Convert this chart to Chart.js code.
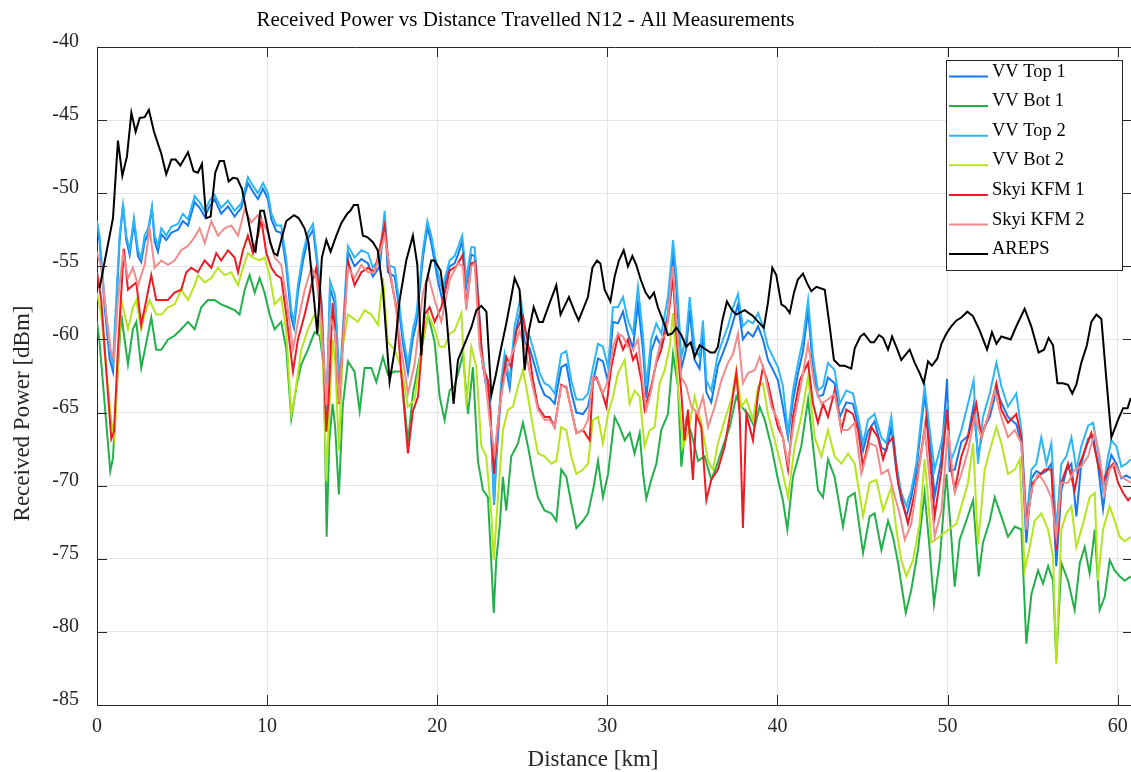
<!DOCTYPE html>
<html><head><meta charset="utf-8">
<script src="https://cdn.jsdelivr.net/npm/chart.js@4.4.1/dist/chart.umd.min.js"></script>
<style>
html,body{margin:0;padding:0;background:#fff;overflow:hidden;}
#c{display:block;}
</style></head><body>
<canvas id="c" width="1145" height="772"></canvas>
<script>
// ---------- data (distance in km, received power in dBm) ----------
const xTickValues = [0, 10, 20, 30, 40, 50, 60];
const yTickValues = [-85, -80, -75, -70, -65, -60, -55, -50, -45, -40];
const seriesNames = ['VV Top 1', 'VV Bot 1', 'VV Top 2', 'VV Bot 2', 'Skyi KFM 1', 'Skyi KFM 2', 'AREPS'];
const titleText = 'Received Power vs Distance Travelled N12 - All Measurements';
const xLabelText = 'Distance [km]';
const yLabelText = 'Received Power [dBm]';

const vvTop1 = [[0,-52.3],[0.15,-53.3],[0.45,-57.8],[0.74,-61.3],[0.94,-62.2],[1.13,-58.0],[1.33,-53.2],[1.53,-50.8],[1.72,-53.2],[1.92,-54.2],[2.17,-52.0],[2.41,-54.3],[2.6,-54.7],[2.8,-53.3],[3.0,-52.8],[3.23,-51.0],[3.39,-53.3],[3.58,-54.0],[3.78,-52.8],[4.07,-53.2],[4.37,-52.7],[4.76,-52.5],[5.05,-51.9],[5.35,-52.2],[5.74,-50.6],[6.03,-51.0],[6.33,-51.6],[6.62,-50.9],[6.91,-50.4],[7.3,-51.4],[7.7,-50.9],[8.09,-51.6],[8.48,-51.0],[8.87,-49.3],[9.17,-49.9],[9.46,-50.4],[9.76,-49.7],[10.05,-50.4],[10.25,-51.8],[10.54,-52.6],[10.83,-52.7],[11.13,-55.1],[11.42,-58.5],[11.58,-59.2],[11.81,-56.8],[12.11,-54.6],[12.4,-53.1],[12.7,-52.5],[12.89,-54.3],[13.19,-57.8],[13.48,-66.0],[13.7,-56.5],[14.0,-57.6],[14.26,-63.8],[14.75,-54.0],[15.14,-55.0],[15.54,-54.5],[15.93,-54.8],[16.22,-55.7],[16.62,-55.0],[16.91,-51.7],[17.1,-55.4],[17.5,-55.7],[17.69,-57.3],[17.99,-60.3],[18.28,-62.3],[18.57,-59.9],[18.77,-58.9],[19.16,-54.4],[19.42,-52.3],[19.65,-53.4],[20.04,-56.0],[20.34,-57.5],
[20.43,-56.3],[20.73,-55.0],[21.02,-54.8],[21.22,-54.2],[21.47,-53.3],[21.71,-56.3],[22.0,-54.2],[22.2,-54.3],[22.39,-57.3],[22.59,-61.0],[22.88,-63.2],[23.08,-63.8],[23.34,-71.3],[23.47,-68.3],[23.77,-63.3],[23.96,-61.5],[24.26,-63.3],[24.55,-59.8],[24.9,-58.0],[25.14,-60.2],[25.43,-60.6],[25.73,-61.8],[26.02,-63.0],[26.31,-63.8],[26.61,-64.0],[26.9,-64.4],[27.29,-61.9],[27.59,-61.7],[27.88,-63.6],[28.18,-65.0],[28.57,-65.1],[28.86,-64.6],[29.16,-62.9],[29.45,-61.3],[29.74,-61.5],[30.04,-62.9],[30.33,-58.8],[30.62,-58.9],[30.92,-58.1],[31.21,-59.6],[31.51,-60.6],[31.8,-57.5],[32.1,-60.8],[32.29,-64.0],[32.58,-60.8],[32.88,-59.8],[33.17,-60.5],[33.56,-58.2],[33.76,-55.5],[33.86,-54.0],[34.05,-56.5],[34.35,-62.0],[34.64,-60.6],[34.84,-58.0],[35.13,-61.4],[35.42,-62.0],[35.62,-59.6],[35.82,-63.6],[36.11,-64.3],[36.5,-61.8],[36.8,-60.9],[37.09,-60.0],[37.39,-58.8],[37.68,-57.6],[37.97,-60.0],[38.27,-59.5],[38.56,-59.8],[38.86,-59.1],[39.15,-60.0],[39.44,-61.4],[39.74,-62.1],[40.03,-62.8],[40.32,-64.6],
[40.62,-66.7],[40.91,-64.2],[41.21,-62.3],[41.5,-60.8],[41.8,-58.0],[42.09,-62.0],[42.38,-63.9],[42.68,-63.8],[42.97,-62.6],[43.36,-63.0],[43.66,-65.3],[44.05,-64.3],[44.44,-64.4],[44.74,-65.8],[45.03,-67.6],[45.32,-66.3],[45.71,-65.6],[46.11,-67.4],[46.4,-67.6],[46.69,-66.0],[46.99,-69.0],[47.28,-71.0],[47.58,-72.1],[47.87,-70.8],[48.16,-69.0],[48.46,-65.8],[48.65,-63.8],[48.95,-66.8],[49.24,-70.7],[49.63,-68.2],[49.97,-62.7],[50.12,-69.0],[50.42,-68.9],[50.81,-67.0],[51.2,-66.6],[51.53,-64.5],[51.79,-68.0],[52.08,-66.2],[52.48,-65.3],[52.87,-63.5],[53.16,-64.3],[53.55,-65.3],[54.04,-65.8],[54.34,-67.1],[54.63,-73.9],[54.93,-69.5],[55.22,-69.0],[55.51,-69.2],[55.81,-69.0],[56.1,-68.5],[56.39,-75.5],[56.69,-70.3],[56.98,-69.0],[57.28,-68.5],[57.57,-72.1],[57.86,-68.5],[58.26,-66.8],[58.55,-66.6],[58.84,-68.6],[59.14,-71.6],[59.43,-68.8],[59.63,-67.9],[59.92,-68.5],[60.22,-69.5],[60.51,-69.3],[60.77,-69.5]];

const vvBot1 = [[0,-58.8],[0.15,-60.2],[0.45,-64.4],[0.78,-69.0],[0.94,-68.1],[1.13,-63.9],[1.43,-58.3],[1.82,-61.7],[2.11,-59.3],[2.31,-58.8],[2.6,-61.95],[2.9,-60.2],[3.19,-58.5],[3.48,-60.7],[3.78,-60.7],[4.17,-60.0],[4.56,-59.75],[4.95,-59.3],[5.35,-58.8],[5.74,-59.3],[6.13,-57.8],[6.52,-57.3],[6.91,-57.3],[7.3,-57.6],[7.7,-57.8],[8.09,-58.0],[8.38,-58.3],[8.68,-56.6],[8.97,-55.6],[9.27,-56.8],[9.56,-55.8],[9.85,-56.8],[10.15,-58.3],[10.44,-59.3],[10.83,-58.8],[11.13,-60.7],[11.42,-65.4],[11.72,-63.2],[12.01,-61.7],[12.4,-60.7],[12.79,-59.5],[13.09,-59.75],[13.34,-61.95],[13.5,-73.5],[13.65,-67.0],[13.85,-64.4],[14.0,-66.0],[14.22,-70.6],[14.45,-64.5],[14.75,-61.5],[15.14,-62.2],[15.44,-64.9],[15.73,-61.95],[16.13,-61.95],[16.42,-62.9],[16.81,-61.2],[17.1,-62.4],[17.5,-62.2],[17.89,-62.2],[18.28,-67.0],[18.57,-63.7],[19.06,-60.7],[19.46,-58.3],[19.85,-60.2],[20.14,-63.9],
[20.43,-65.5],[20.73,-63.5],[21.02,-63.2],[21.32,-61.9],[21.51,-61.0],[21.81,-65.1],[22.1,-61.9],[22.39,-68.3],[22.69,-70.3],[22.98,-70.8],[23.18,-75.3],[23.32,-78.7],[23.47,-75.1],[23.67,-72.8],[23.86,-69.4],[24.06,-71.7],[24.35,-68.0],[24.75,-67.1],[25.04,-65.7],[25.33,-67.3],[25.63,-69.2],[25.92,-70.8],[26.31,-71.7],[26.71,-71.9],[27.0,-72.4],[27.29,-68.9],[27.59,-69.4],[27.88,-71.2],[28.18,-72.9],[28.57,-72.4],[28.86,-71.9],[29.16,-70.3],[29.45,-68.3],[29.74,-70.8],[30.04,-69.2],[30.43,-65.3],[30.72,-66.0],[31.02,-66.9],[31.31,-66.4],[31.6,-67.8],[31.9,-66.4],[32.1,-69.2],[32.29,-70.9],[32.58,-69.6],[32.88,-68.5],[33.17,-66.2],[33.56,-65.1],[33.86,-61.0],[34.15,-63.2],[34.35,-68.7],[34.64,-65.5],[34.94,-66.4],[35.33,-68.3],[35.72,-68.0],[36.11,-69.6],[36.41,-68.7],[36.8,-67.3],[37.19,-66.0],[37.58,-63.9],[37.88,-64.6],[38.27,-65.1],[38.66,-66.0],[38.95,-64.6],[39.25,-65.5],[39.64,-67.3],[40.03,-69.6],[40.32,-71.0],
[40.58,-73.0],[40.91,-69.4],[41.4,-67.3],[41.8,-64.1],[42.09,-67.3],[42.38,-70.3],[42.68,-70.8],[42.97,-68.2],[43.36,-69.4],[43.85,-72.8],[44.15,-70.8],[44.54,-70.5],[45.03,-74.6],[45.42,-72.1],[45.71,-71.9],[46.11,-74.4],[46.5,-72.4],[46.79,-73.5],[47.09,-75.3],[47.54,-78.7],[47.87,-77.1],[48.26,-74.4],[48.65,-70.5],[48.95,-74.4],[49.2,-78.1],[49.54,-75.1],[49.93,-69.2],[50.22,-73.5],[50.42,-76.9],[50.71,-73.7],[51.1,-72.4],[51.5,-71.0],[51.83,-76.2],[52.08,-73.9],[52.48,-72.4],[52.77,-70.8],[53.16,-72.1],[53.55,-73.5],[53.95,-72.8],[54.34,-73.0],[54.63,-80.8],[54.93,-77.4],[55.32,-75.8],[55.61,-76.7],[55.91,-75.5],[56.2,-76.5],[56.39,-81.9],[56.69,-75.3],[57.08,-76.5],[57.47,-78.5],[57.77,-75.3],[58.06,-74.2],[58.35,-76.0],[58.65,-73.0],[58.94,-78.5],[59.24,-77.6],[59.53,-75.1],[59.82,-75.8],[60.12,-76.2],[60.41,-76.5],[60.77,-76.2]];

const vvTop2 = [[0,-51.9],[0.15,-52.9],[0.45,-57.3],[0.74,-60.7],[0.94,-61.6],[1.13,-57.3],[1.33,-52.9],[1.53,-50.8],[1.72,-52.9],[1.92,-53.9],[2.17,-51.7],[2.41,-53.9],[2.6,-54.4],[2.8,-52.9],[3.0,-52.4],[3.23,-51.0],[3.39,-52.9],[3.58,-53.6],[3.78,-52.4],[4.07,-52.9],[4.37,-52.3],[4.76,-52.1],[5.05,-51.4],[5.35,-51.8],[5.74,-50.2],[6.03,-50.6],[6.33,-51.2],[6.62,-50.5],[6.91,-50.1],[7.3,-51.0],[7.7,-50.5],[8.09,-51.2],[8.48,-50.7],[8.87,-48.9],[9.17,-49.5],[9.46,-50.0],[9.76,-49.3],[10.05,-50.0],[10.25,-51.4],[10.54,-52.2],[10.83,-52.2],[11.13,-54.6],[11.42,-58.0],[11.58,-58.8],[11.81,-56.3],[12.11,-54.1],[12.4,-52.7],[12.7,-52.1],[12.89,-53.9],[13.19,-57.3],[13.48,-65.0],[13.7,-56.0],[14.0,-57.0],[14.26,-63.0],[14.75,-53.6],[15.14,-54.4],[15.54,-53.9],[15.93,-54.1],[16.22,-55.1],[16.62,-54.4],[16.91,-51.2],[17.1,-54.9],[17.5,-55.1],[17.69,-56.8],[17.99,-59.75],[18.28,-61.7],[18.57,-59.3],[18.77,-58.3],[19.16,-53.9],[19.42,-51.9],[19.65,-52.9],[20.04,-55.4],[20.34,-56.8],
[20.43,-55.9],[20.73,-54.6],[21.02,-54.3],[21.22,-53.7],[21.47,-52.9],[21.71,-55.9],[22.0,-53.7],[22.2,-53.7],[22.39,-56.6],[22.59,-60.5],[22.88,-62.8],[23.08,-63.2],[23.34,-71.2],[23.47,-67.8],[23.77,-62.8],[23.96,-61.0],[24.26,-62.8],[24.55,-59.1],[24.9,-57.1],[25.14,-59.4],[25.43,-59.8],[25.73,-61.0],[26.02,-62.3],[26.31,-63.0],[26.61,-63.2],[26.9,-63.7],[27.29,-61.0],[27.59,-60.8],[27.88,-62.8],[28.18,-64.1],[28.57,-64.1],[28.86,-63.7],[29.16,-61.9],[29.45,-60.3],[29.74,-60.5],[30.04,-61.9],[30.33,-57.8],[30.62,-57.8],[30.92,-57.1],[31.21,-58.7],[31.51,-59.6],[31.8,-56.4],[32.1,-59.8],[32.29,-63.2],[32.58,-60.0],[32.88,-58.9],[33.17,-59.6],[33.56,-57.1],[33.76,-54.6],[33.86,-53.2],[34.05,-55.5],[34.35,-61.2],[34.64,-59.8],[34.84,-57.1],[35.13,-60.5],[35.42,-61.2],[35.62,-58.7],[35.82,-62.8],[36.11,-63.5],[36.5,-61.0],[36.8,-60.0],[37.09,-59.1],[37.39,-57.8],[37.68,-56.9],[37.97,-59.1],[38.27,-58.7],[38.56,-58.9],[38.86,-58.2],[39.15,-59.1],[39.44,-60.5],[39.74,-61.2],[40.03,-61.9],[40.32,-63.2],
[40.62,-66.4],[40.91,-63.5],[41.21,-61.6],[41.5,-60.0],[41.8,-57.3],[42.09,-61.2],[42.38,-63.5],[42.68,-63.2],[42.97,-61.6],[43.36,-62.1],[43.66,-64.4],[44.05,-63.5],[44.44,-63.7],[44.74,-65.3],[45.03,-67.1],[45.32,-65.5],[45.71,-65.1],[46.11,-66.7],[46.4,-67.1],[46.69,-65.3],[46.99,-68.5],[47.28,-70.5],[47.58,-71.4],[47.87,-70.3],[48.16,-68.5],[48.46,-65.3],[48.65,-63.2],[48.95,-66.2],[49.24,-68.9],[49.63,-67.1],[49.97,-64.8],[50.12,-68.5],[50.42,-67.6],[50.81,-66.2],[51.2,-64.4],[51.53,-62.8],[51.79,-68.5],[52.08,-65.3],[52.48,-63.7],[52.87,-61.6],[53.16,-63.2],[53.55,-64.6],[54.04,-63.7],[54.34,-66.2],[54.63,-72.4],[54.93,-68.9],[55.22,-68.5],[55.51,-66.7],[55.81,-68.5],[56.1,-67.1],[56.39,-73.0],[56.69,-68.5],[56.98,-68.0],[57.28,-66.7],[57.57,-68.9],[57.86,-67.3],[58.26,-65.9],[58.55,-65.7],[58.84,-67.6],[59.14,-70.3],[59.43,-68.0],[59.63,-66.9],[59.92,-67.3],[60.22,-68.7],[60.51,-68.5],[60.77,-68.2]];

const vvBot2 = [[0,-56.8],[0.25,-58.3],[0.55,-62.2],[0.84,-65.6],[1.03,-66.8],[1.23,-62.0],[1.43,-57.3],[1.82,-59.3],[2.11,-57.8],[2.31,-57.3],[2.6,-59.3],[2.8,-58.3],[3.09,-57.3],[3.48,-58.3],[3.78,-58.3],[4.17,-57.8],[4.56,-57.6],[4.95,-56.6],[5.35,-57.3],[5.74,-56.3],[5.93,-55.6],[6.33,-56.1],[6.72,-55.8],[7.11,-55.1],[7.5,-55.6],[7.89,-55.4],[8.29,-56.3],[8.58,-55.1],[8.87,-54.1],[9.17,-54.4],[9.56,-54.6],[9.85,-54.4],[10.15,-55.6],[10.44,-57.6],[10.83,-57.1],[11.13,-59.5],[11.42,-65.1],[11.62,-63.9],[12.01,-60.7],[12.4,-59.3],[12.79,-58.3],[13.09,-58.8],[13.28,-61.2],[13.48,-69.7],[13.65,-65.0],[13.85,-60.0],[14.0,-61.5],[14.22,-67.6],[14.45,-60.5],[14.75,-58.3],[15.34,-58.8],[15.73,-58.0],[16.13,-58.3],[16.52,-59.0],[16.81,-55.8],[17.1,-60.2],[17.5,-60.7],[17.89,-61.95],[18.28,-64.6],[18.67,-64.1],[19.06,-60.7],[19.46,-58.3],[19.85,-59.3],[20.14,-60.5],
[20.43,-60.5],[20.73,-59.6],[21.02,-59.4],[21.42,-58.2],[21.71,-64.6],[22.0,-60.5],[22.3,-61.9],[22.59,-67.3],[22.88,-68.0],[23.18,-71.9],[23.32,-75.1],[23.57,-70.8],[23.86,-66.2],[24.16,-64.8],[24.45,-64.6],[24.75,-63.2],[25.04,-62.1],[25.33,-63.9],[25.63,-66.0],[25.92,-67.8],[26.31,-68.0],[26.71,-68.5],[27.0,-68.3],[27.29,-66.0],[27.59,-66.2],[27.88,-68.0],[28.18,-69.2],[28.57,-68.9],[28.86,-68.5],[29.16,-65.5],[29.45,-65.3],[29.74,-67.1],[30.04,-65.1],[30.33,-63.9],[30.63,-62.3],[31.02,-61.4],[31.31,-64.4],[31.6,-63.5],[31.9,-63.9],[32.19,-67.3],[32.49,-66.2],[32.78,-66.0],[33.07,-63.0],[33.37,-62.1],[33.66,-60.5],[33.86,-58.2],[34.15,-63.2],[34.45,-67.3],[34.74,-66.4],[35.13,-63.9],[35.52,-65.7],[35.92,-68.3],[36.21,-68.9],[36.5,-67.1],[36.9,-65.5],[37.29,-64.1],[37.58,-62.1],[37.88,-64.6],[38.17,-64.1],[38.56,-65.5],[38.86,-63.2],[39.15,-63.0],[39.44,-65.1],[39.84,-66.9],[40.23,-68.7],
[40.62,-70.8],[41.01,-67.3],[41.4,-65.3],[41.8,-62.5],[42.19,-66.7],[42.58,-68.0],[42.97,-66.2],[43.36,-68.0],[43.76,-68.5],[44.15,-67.8],[44.54,-68.5],[45.03,-72.1],[45.42,-69.8],[45.81,-69.6],[46.21,-71.7],[46.69,-70.1],[46.99,-73.0],[47.28,-75.1],[47.58,-76.2],[47.97,-75.1],[48.36,-72.6],[48.65,-68.2],[48.85,-70.8],[49.05,-73.9],[50.52,-72.6],[50.81,-71.4],[51.2,-69.8],[51.5,-67.1],[51.79,-74.0],[52.18,-68.9],[52.48,-67.6],[52.87,-66.0],[53.16,-67.1],[53.55,-69.2],[53.95,-68.9],[54.24,-68.2],[54.53,-75.8],[54.83,-74.2],[55.12,-72.4],[55.51,-71.9],[55.91,-73.0],[56.2,-74.9],[56.39,-82.2],[56.69,-73.0],[56.98,-71.9],[57.28,-71.4],[57.57,-74.2],[57.96,-72.6],[58.35,-70.8],[58.65,-70.5],[58.84,-76.5],[59.14,-73.0],[59.53,-71.4],[59.82,-72.4],[60.12,-73.5],[60.41,-73.8],[60.77,-73.5]];

const skyiKfm1 = [[0,-55.4],[0.25,-57.3],[0.55,-62.2],[0.84,-66.8],[1.0,-66.3],[1.23,-60.7],[1.58,-53.8],[1.82,-56.6],[2.11,-56.3],[2.31,-56.1],[2.6,-59.0],[2.9,-57.3],[3.19,-55.6],[3.48,-57.3],[3.78,-57.3],[4.17,-57.3],[4.56,-56.8],[4.95,-56.6],[5.25,-55.4],[5.54,-55.1],[5.93,-55.4],[6.33,-54.6],[6.72,-55.1],[7.01,-54.1],[7.3,-54.6],[7.7,-53.9],[8.09,-54.4],[8.29,-55.4],[8.58,-53.9],[8.87,-52.9],[9.17,-54.1],[9.46,-52.9],[9.66,-51.8],[9.95,-54.1],[10.25,-55.1],[10.54,-55.6],[10.83,-55.8],[11.13,-58.3],[11.52,-62.2],[11.81,-60.0],[12.21,-58.3],[12.6,-56.3],[12.89,-55.1],[13.19,-57.6],[13.48,-66.3],[13.62,-64.0],[13.85,-57.5],[14.0,-59.5],[14.22,-64.4],[14.75,-54.6],[15.14,-56.3],[15.54,-55.4],[15.93,-55.1],[16.32,-55.4],[16.91,-52.2],[17.2,-55.4],[17.6,-57.8],[17.89,-62.4],[18.28,-67.8],[18.57,-64.9],[18.87,-63.9],[19.26,-58.3],[19.55,-57.8],[19.85,-58.8],[20.24,-57.8],
[20.73,-55.3],[21.12,-55.0],[21.51,-54.2],[21.71,-57.8],[22.0,-54.8],[22.24,-54.7],[22.49,-58.7],[22.69,-61.9],[22.98,-62.8],[23.34,-69.2],[23.57,-65.7],[23.86,-62.8],[24.06,-61.2],[24.35,-61.9],[24.65,-59.4],[25.04,-58.4],[25.33,-60.3],[25.63,-62.8],[25.92,-64.6],[26.31,-65.3],[26.61,-65.3],[26.9,-66.0],[27.29,-63.1],[27.59,-63.3],[27.88,-64.8],[28.18,-66.4],[28.57,-66.2],[28.96,-66.9],[29.16,-62.8],[29.35,-62.6],[29.65,-63.5],[29.94,-64.6],[30.23,-61.9],[30.63,-59.7],[30.92,-60.7],[31.21,-60.0],[31.51,-61.4],[31.7,-61.0],[32.0,-62.8],[32.19,-64.8],[32.58,-63.2],[32.88,-61.6],[33.17,-60.7],[33.56,-58.7],[33.86,-55.7],[34.05,-59.6],[34.35,-63.7],[34.54,-66.9],[34.74,-64.8],[35.03,-69.6],[35.23,-65.1],[35.52,-66.0],[35.82,-71.0],[36.11,-69.6],[36.5,-68.9],[36.9,-67.3],[37.29,-64.6],[37.58,-62.3],[37.78,-65.1],[37.97,-72.9],[38.17,-65.1],[38.56,-66.9],[38.86,-63.7],[39.15,-61.9],[39.44,-63.0],[39.74,-64.6],[40.03,-66.0],[40.32,-66.7],
[40.62,-68.9],[40.91,-65.3],[41.31,-62.8],[41.8,-61.6],[42.09,-64.4],[42.38,-65.7],[42.68,-64.4],[42.97,-65.3],[43.36,-63.5],[43.76,-66.2],[44.05,-64.8],[44.44,-65.1],[44.74,-66.2],[45.03,-68.7],[45.52,-66.0],[45.91,-66.7],[46.21,-68.2],[46.5,-67.1],[46.79,-66.7],[47.09,-69.8],[47.48,-71.7],[47.67,-72.6],[48.07,-70.5],[48.46,-67.6],[48.75,-65.3],[49.05,-69.4],[49.24,-72.1],[49.64,-68.9],[49.97,-64.8],[50.22,-68.9],[50.42,-70.3],[50.81,-68.0],[51.2,-66.7],[51.69,-64.4],[51.99,-66.7],[52.38,-65.3],[52.87,-63.0],[53.16,-64.8],[53.55,-65.7],[54.04,-65.1],[54.34,-66.7],[54.63,-72.6],[55.02,-69.8],[55.32,-69.4],[55.71,-68.9],[56.1,-68.9],[56.39,-74.4],[56.69,-69.8],[57.08,-68.5],[57.47,-70.3],[57.77,-68.5],[58.06,-67.6],[58.45,-66.4],[58.84,-68.5],[59.14,-69.8],[59.43,-68.9],[59.73,-68.5],[60.02,-69.8],[60.32,-70.5],[60.61,-71.0],[60.77,-70.8]];

const skyiKfm2 = [[0,-54.0],[0.25,-55.1],[0.55,-58.3],[0.8,-60.7],[1.0,-61.3],[1.23,-57.3],[1.53,-54.1],[1.82,-55.8],[2.11,-55.1],[2.41,-56.3],[2.8,-54.9],[3.09,-52.4],[3.39,-55.1],[3.78,-54.6],[4.17,-54.9],[4.56,-54.6],[4.95,-53.9],[5.35,-53.6],[5.74,-53.0],[6.03,-52.4],[6.33,-53.4],[6.72,-51.9],[7.11,-52.9],[7.5,-52.4],[7.89,-52.2],[8.29,-52.9],[8.68,-51.1],[9.07,-52.0],[9.46,-51.5],[9.76,-52.0],[10.05,-52.7],[10.44,-54.4],[10.83,-54.9],[11.13,-57.1],[11.52,-60.7],[11.81,-58.8],[12.21,-56.6],[12.6,-55.1],[12.89,-55.8],[13.19,-58.8],[13.48,-64.5],[13.7,-58.5],[14.0,-59.5],[14.22,-64.3],[14.75,-55.1],[15.14,-55.8],[15.54,-54.9],[15.93,-55.4],[16.32,-55.4],[16.91,-52.9],[17.2,-55.1],[17.5,-57.3],[17.89,-60.7],[18.28,-63.7],[18.67,-61.7],[19.16,-56.8],[19.46,-55.6],[19.85,-57.3],[20.24,-58.8],
[20.73,-55.9],[21.22,-54.8],[21.51,-55.0],[21.71,-58.0],[22.0,-55.0],[22.2,-54.8],[22.49,-60.5],[22.79,-62.3],[23.08,-65.5],[23.37,-67.8],[23.67,-64.6],[23.96,-62.5],[24.26,-61.4],[24.55,-60.5],[24.84,-59.4],[25.14,-60.5],[25.53,-62.8],[25.92,-64.8],[26.31,-65.5],[26.61,-65.5],[26.9,-66.0],[27.29,-63.2],[27.59,-63.2],[27.88,-64.8],[28.18,-66.4],[28.57,-66.2],[28.86,-65.5],[29.16,-62.6],[29.45,-62.8],[29.74,-63.7],[30.04,-62.8],[30.33,-60.5],[30.63,-59.6],[30.92,-59.8],[31.21,-60.5],[31.51,-60.7],[31.8,-60.0],[32.1,-63.2],[32.29,-64.8],[32.58,-63.5],[32.88,-61.4],[33.17,-60.0],[33.47,-59.6],[33.76,-55.9],[33.86,-55.0],[34.05,-58.7],[34.35,-62.6],[34.64,-63.2],[34.94,-64.6],[35.33,-65.1],[35.62,-63.9],[35.92,-66.0],[36.31,-64.6],[36.7,-62.8],[37.09,-61.6],[37.39,-61.0],[37.68,-59.6],[37.97,-63.0],[38.27,-62.3],[38.66,-62.1],[38.95,-61.2],[39.25,-62.3],[39.64,-64.6],[40.03,-65.5],[40.32,-66.7],
[40.62,-68.5],[41.01,-65.3],[41.4,-63.0],[41.8,-60.3],[42.19,-63.2],[42.58,-64.4],[42.97,-64.1],[43.36,-63.7],[43.76,-66.2],[44.15,-66.2],[44.54,-65.7],[44.93,-69.2],[45.42,-67.1],[45.81,-67.3],[46.11,-69.2],[46.5,-68.9],[46.79,-70.3],[47.18,-71.9],[47.48,-73.7],[47.87,-72.6],[48.26,-69.4],[48.65,-66.2],[48.95,-69.6],[49.24,-73.5],[49.64,-71.7],[50.03,-66.2],[50.42,-70.5],[50.81,-69.2],[51.2,-67.6],[51.59,-65.3],[51.99,-66.7],[52.38,-65.3],[52.77,-63.5],[53.16,-65.3],[53.55,-66.7],[53.95,-66.2],[54.34,-67.1],[54.63,-73.0],[54.93,-70.3],[55.32,-69.2],[55.71,-69.8],[56.1,-70.8],[56.39,-73.5],[56.69,-69.8],[57.08,-69.8],[57.47,-68.9],[57.86,-68.7],[58.26,-68.0],[58.65,-66.4],[58.94,-68.0],[59.24,-70.5],[59.53,-68.9],[59.82,-68.5],[60.22,-69.4],[60.77,-69.8]];

const areps = [[0.15,-56.5],[0.94,-51.7],[1.23,-46.4],[1.49,-48.8],[1.76,-47.5],[2.02,-44.5],[2.27,-45.8],[2.51,-44.85],[2.8,-44.8],[3.05,-44.3],[3.35,-45.8],[3.78,-47.3],[4.07,-48.7],[4.37,-47.7],[4.62,-47.7],[4.9,-48.1],[5.35,-47.2],[5.68,-48.5],[5.93,-48.6],[6.17,-48.0],[6.42,-51.7],[6.68,-51.6],[6.95,-48.6],[7.21,-47.8],[7.46,-47.8],[7.74,-49.2],[7.99,-48.95],[8.25,-49.0],[8.52,-49.7],[8.87,-51.7],[9.23,-53.9],[9.32,-54.0],[9.6,-51.2],[9.81,-51.2],[10.19,-53.4],[10.4,-54.1],[10.6,-54.25],[10.83,-53.2],[11.13,-51.9],[11.58,-51.5],[11.85,-51.7],[12.2,-52.4],[12.44,-53.4],[12.95,-59.6],[13.22,-54.4],[13.48,-53.2],[13.73,-54.0],[14.07,-52.9],[14.36,-52.05],[14.71,-51.4],[14.89,-51.2],[15.1,-50.8],[15.34,-50.8],[15.63,-52.9],[15.89,-53.0],[16.22,-53.35],[16.5,-53.9],[16.81,-56.6],[17.2,-62.9],[17.5,-60.7],[17.79,-57.3],[18.18,-54.6],[18.57,-52.9],[18.83,-54.9],[19.06,-61.1],[19.36,-56.1],[19.65,-54.6],[19.85,-54.6],[20.2,-55.3],[20.53,-58.2],[20.96,-64.4],[21.22,-61.4],[21.61,-60.3],[22.0,-59.2],[22.3,-58.0],[22.59,-57.7],[22.89,-58.1],[23.18,-63.8],[23.43,-62.5],[23.77,-60.5],[24.06,-58.9],[24.32,-57.3],[24.55,-55.8],[24.84,-56.6],[25.14,-62.1],[25.39,-59.4],[25.67,-57.8],[25.98,-58.8],[26.21,-58.8],[26.61,-57.5],[27.0,-56.3],[27.25,-58.3],[27.74,-57.1],[28.08,-58.1],[28.31,-58.7],[28.86,-57.1],[29.12,-55.1],[29.39,-54.6],[29.59,-54.8],[29.84,-56.6],[30.18,-57.4],[30.43,-55.7],[30.68,-54.6],[30.96,-53.9],[31.21,-55.0],[31.47,-54.3],[31.7,-54.9],[31.96,-55.9],[32.25,-56.8],[32.49,-57.2],[32.74,-56.8],[32.97,-57.8],[33.27,-58.7],[33.56,-59.7],[33.8,-59.6],[34.06,-59.2],[34.35,-59.7],[34.64,-60.5],[34.9,-60.2],[35.13,-61.2],[35.43,-60.4],[35.68,-60.6],[36.07,-60.9],[36.31,-60.9],[36.5,-60.5],[36.76,-58.7],[37.03,-57.4],[37.33,-58.0],[37.58,-58.3],[38.07,-58.0],[38.56,-58.4],[38.95,-58.9],[39.2,-59.2],[39.44,-57.5],[39.7,-55.1],[39.93,-55.6],[40.23,-57.6],[40.48,-57.8],[40.72,-58.2],[40.97,-56.8],[41.2,-55.9],[41.5,-55.5],[41.76,-56.2],[41.99,-56.7],[42.29,-56.4],[42.78,-56.6],[43.07,-59.1],[43.32,-61.4],[43.66,-61.8],[43.95,-61.8],[44.34,-62.0],[44.54,-60.6],[44.87,-59.8],[45.09,-59.6],[45.48,-60.2],[45.68,-60.2],[45.97,-59.7],[46.21,-59.9],[46.5,-60.7],[46.74,-59.8],[47.05,-60.7],[47.28,-61.4],[47.77,-60.7],[48.07,-61.6],[48.36,-62.3],[48.6,-63.0],[48.85,-61.5],[49.08,-61.8],[49.4,-61.3],[49.64,-60.3],[49.93,-59.6],[50.22,-59.1],[50.52,-58.7],[50.81,-58.5],[51.16,-58.1],[51.49,-58.4],[51.89,-59.4],[52.32,-60.7],[52.61,-59.5],[52.87,-60.3],[53.16,-59.8],[53.71,-60.0],[54.04,-59.1],[54.53,-57.9],[54.92,-59.1],[55.35,-60.9],[55.67,-60.7],[55.94,-59.9],[56.2,-60.4],[56.46,-63.0],[56.78,-63.0],[57.08,-63.1],[57.33,-63.7],[57.57,-63.1],[57.86,-61.6],[58.19,-60.4],[58.45,-58.8],[58.75,-58.3],[59.04,-58.6],[59.34,-62.8],[59.63,-66.7],[60.02,-65.5],[60.32,-64.7],[60.58,-64.7],[60.77,-64.0]];

// ---------- styles ----------
const seriesColors = ['#1479f2', '#22b04b', '#2cb6f8', '#b5e61d', '#ed1c24', '#f28b8b', '#000000'];
const FONT = '"Liberation Serif", "Times New Roman", serif';
const AXIS = '#262626';

const seriesData = [vvTop1, vvBot1, vvTop2, vvBot2, skyiKfm1, skyiKfm2, areps];
const datasets = seriesData.map((pts, i) => ({
  label: seriesNames[i],
  data: pts.map(p => ({x: p[0], y: p[1]})),
  borderColor: seriesColors[i],
  backgroundColor: seriesColors[i],
  borderWidth: 2,
  pointRadius: 0,
  tension: 0,
  fill: false,
  order: seriesData.length - i
}));

const deco = {
  id: 'deco',
  afterDraw(chart) {
    const ctx = chart.ctx;
    const a = chart.chartArea;
    const xs = chart.scales.x, ys = chart.scales.y;
    ctx.save();
    // box lines (top, right)
    ctx.strokeStyle = AXIS; ctx.lineWidth = 1;
    ctx.beginPath();
    ctx.moveTo(Math.round(a.left) + 0.5, Math.round(a.top) + 0.5);
    ctx.lineTo(Math.round(a.right) + 0.5, Math.round(a.top) + 0.5);
    ctx.moveTo(Math.round(a.right) + 0.5, Math.round(a.top) + 0.5);
    ctx.lineTo(Math.round(a.right) + 0.5, Math.round(a.bottom) + 0.5);
    // inside ticks
    const tl = 10;
    xTickValues.forEach(v => {
      const px = Math.round(xs.getPixelForValue(v)) + 0.5;
      ctx.moveTo(px, a.bottom); ctx.lineTo(px, a.bottom - tl);
      ctx.moveTo(px, a.top); ctx.lineTo(px, a.top + tl);
    });
    yTickValues.forEach(v => {
      const py = Math.round(ys.getPixelForValue(v)) + 0.5;
      ctx.moveTo(a.left, py); ctx.lineTo(a.left + tl, py);
      ctx.moveTo(a.right, py); ctx.lineTo(a.right - tl, py);
    });
    ctx.stroke();

    // title
    ctx.fillStyle = '#000';
    ctx.font = '21px ' + FONT;
    ctx.textAlign = 'center';
    ctx.textBaseline = 'alphabetic';
    ctx.fillText(titleText, 525.5, 26);
    // x label
    ctx.fillStyle = AXIS;
    ctx.font = '23px ' + FONT;
    ctx.fillText(xLabelText, 593, 766);
    // y label
    ctx.save();
    ctx.translate(29, 413.5);
    ctx.rotate(-Math.PI / 2);
    ctx.fillText(yLabelText, 0, 0);
    ctx.restore();

    // legend
    const lx = 946, ly = 60, lw = 176, lh = 210;
    ctx.fillStyle = '#fff';
    ctx.fillRect(lx, ly, lw, lh);
    ctx.strokeStyle = AXIS; ctx.lineWidth = 1;
    ctx.strokeRect(lx + 0.5, ly + 0.5, lw, lh);
    ctx.font = '18.5px ' + FONT;
    ctx.textAlign = 'left';
    seriesNames.forEach((name, i) => {
      const yy = 76.5 + i * 29.6;
      ctx.strokeStyle = seriesColors[i];
      ctx.lineWidth = 2;
      ctx.beginPath();
      ctx.moveTo(949, yy); ctx.lineTo(988, yy);
      ctx.stroke();
      ctx.fillStyle = '#000';
      ctx.fillText(name, 992, yy);
    });
    ctx.restore();
  }
};

new Chart(document.getElementById('c'), {
  type: 'line',
  data: {datasets},
  options: {
    responsive: false,
    animation: false,
    devicePixelRatio: 1,
    layout: {padding: {top: 47, right: 12, left: 0, bottom: 0}},
    plugins: {legend: {display: false}, title: {display: false}, tooltip: {enabled: false}},
    elements: {point: {radius: 0}, line: {tension: 0}},
    scales: {
      x: {
        type: 'linear', min: 0, max: 60.9,
        afterBuildTicks: s => { s.ticks = xTickValues.map(v => ({value: v})); },
        afterFit: s => { s.height = 67; },
        grid: {color: '#e4e4e4', lineWidth: 1, drawTicks: false},
        border: {display: true, color: AXIS, width: 1},
        ticks: {font: {family: FONT, size: 20}, color: AXIS, padding: 10, maxRotation: 0, autoSkip: false, includeBounds: false}
      },
      y: {
        type: 'linear', min: -85, max: -40,
        afterBuildTicks: s => { s.ticks = yTickValues.map(v => ({value: v})); },
        afterFit: s => { s.width = 97; },
        grid: {color: '#e4e4e4', lineWidth: 1, drawTicks: false},
        border: {display: true, color: AXIS, width: 1},
        ticks: {font: {family: FONT, size: 20}, color: AXIS, padding: 18, labelOffset: -5, autoSkip: false, includeBounds: false}
      }
    }
  },
  plugins: [deco]
});
</script>
</body></html>
